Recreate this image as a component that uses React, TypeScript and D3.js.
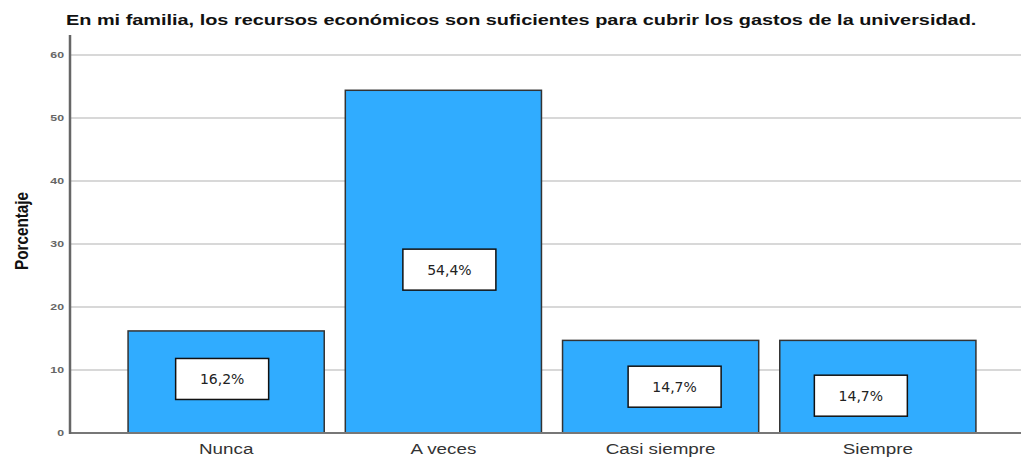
import React from "react";
import * as d3 from "d3";

const title = "En mi familia, los recursos económicos son suficientes para cubrir los gastos de la universidad.";
const yTitle = "Porcentaje";
const categories = ["Nunca", "A veces", "Casi siempre", "Siempre"];
const percentages = [16.2, 54.4, 14.7, 14.7];
const valueLabels = ["16,2%", "54,4%", "14,7%", "14,7%"];
const yTicks = [0, 10, 20, 30, 40, 50, 60];

// layout tweaks for the manually placed value boxes (pixels, relative to bar centre / bar middle)
const labelDx = [-4, 6, 14, -17];
const labelDy = [-3, 8, 0, 9];

const W = 1027;
const H = 457;
const SX = 1.3; // horizontal stretch of the reference's text

export default function App() {
  const y = d3.scaleLinear().domain([0, 60]).range([433, 55]);
  const x = d3
    .scaleBand<string>()
    .domain(categories)
    .range([107, 997])
    .paddingInner(0.097)
    .paddingOuter(0.097);
  const axisX = 70;
  const gridRight = 1021;

  return (
    <svg
      width={W}
      height={H}
      style={{ position: "absolute", left: 0, top: 0, background: "#fff" }}
      fontFamily="'Liberation Sans', Arial, sans-serif"
    >
      <text
        transform={`translate(66,25) scale(${SX},1)`}
        fontSize={15.3}
        fontWeight="bold"
        fill="#111"
      >
        {title}
      </text>
      {yTicks.map((t) => (
        <g key={t}>
          {t > 0 && (
            <line x1={axisX} x2={gridRight} y1={y(t)} y2={y(t)} stroke="#d8d8d8" strokeWidth={2} />
          )}
          <text
            transform={`translate(64,${y(t)}) scale(${SX},1)`}
            dy="0.35em"
            textAnchor="end"
            fontSize={9.5}
            fontWeight="bold"
            fill="#666"
          >
            {t}
          </text>
        </g>
      ))}
      <text
        transform={`translate(28,231) rotate(-90) scale(1,${SX})`}
        textAnchor="middle"
        fontSize={14}
        fontWeight="bold"
        fill="#111"
        textLength={78}
        lengthAdjust="spacingAndGlyphs"
      >
        {yTitle}
      </text>
      {categories.map((c, i) => {
        const x0 = x(c)!;
        const bw = x.bandwidth();
        const top = y(percentages[i]);
        const cx = x0 + bw / 2 + labelDx[i];
        const cy = (top + y(0)) / 2 + labelDy[i];
        return (
          <g key={c}>
            <rect
              x={x0}
              y={top}
              width={bw}
              height={y(0) - top}
              fill="#30acff"
              stroke="#333"
              strokeWidth={1.5}
            />
            <rect x={cx - 46.5} y={cy - 20.5} width={93} height={41} fill="#fff" stroke="#111" strokeWidth={1.5} />
            <text
              x={cx}
              y={cy}
              dy="0.36em"
              textAnchor="middle"
              fontSize={14}
              fontFamily="'DejaVu Sans', sans-serif"
              fill="#222"
            >
              {valueLabels[i]}
            </text>
            <text
              transform={`translate(${x0 + bw / 2},449) scale(${SX},1)`}
              dy="0.35em"
              textAnchor="middle"
              fontSize={14.5}
              fill="#333"
            >
              {c}
            </text>
          </g>
        );
      })}
      <line x1={axisX} x2={gridRight} y1={y(0)} y2={y(0)} stroke="#777" strokeWidth={2} />
      <line x1={axisX} x2={axisX} y1={35} y2={y(0) + 1} stroke="#666" strokeWidth={2.5} />
    </svg>
  );
}
